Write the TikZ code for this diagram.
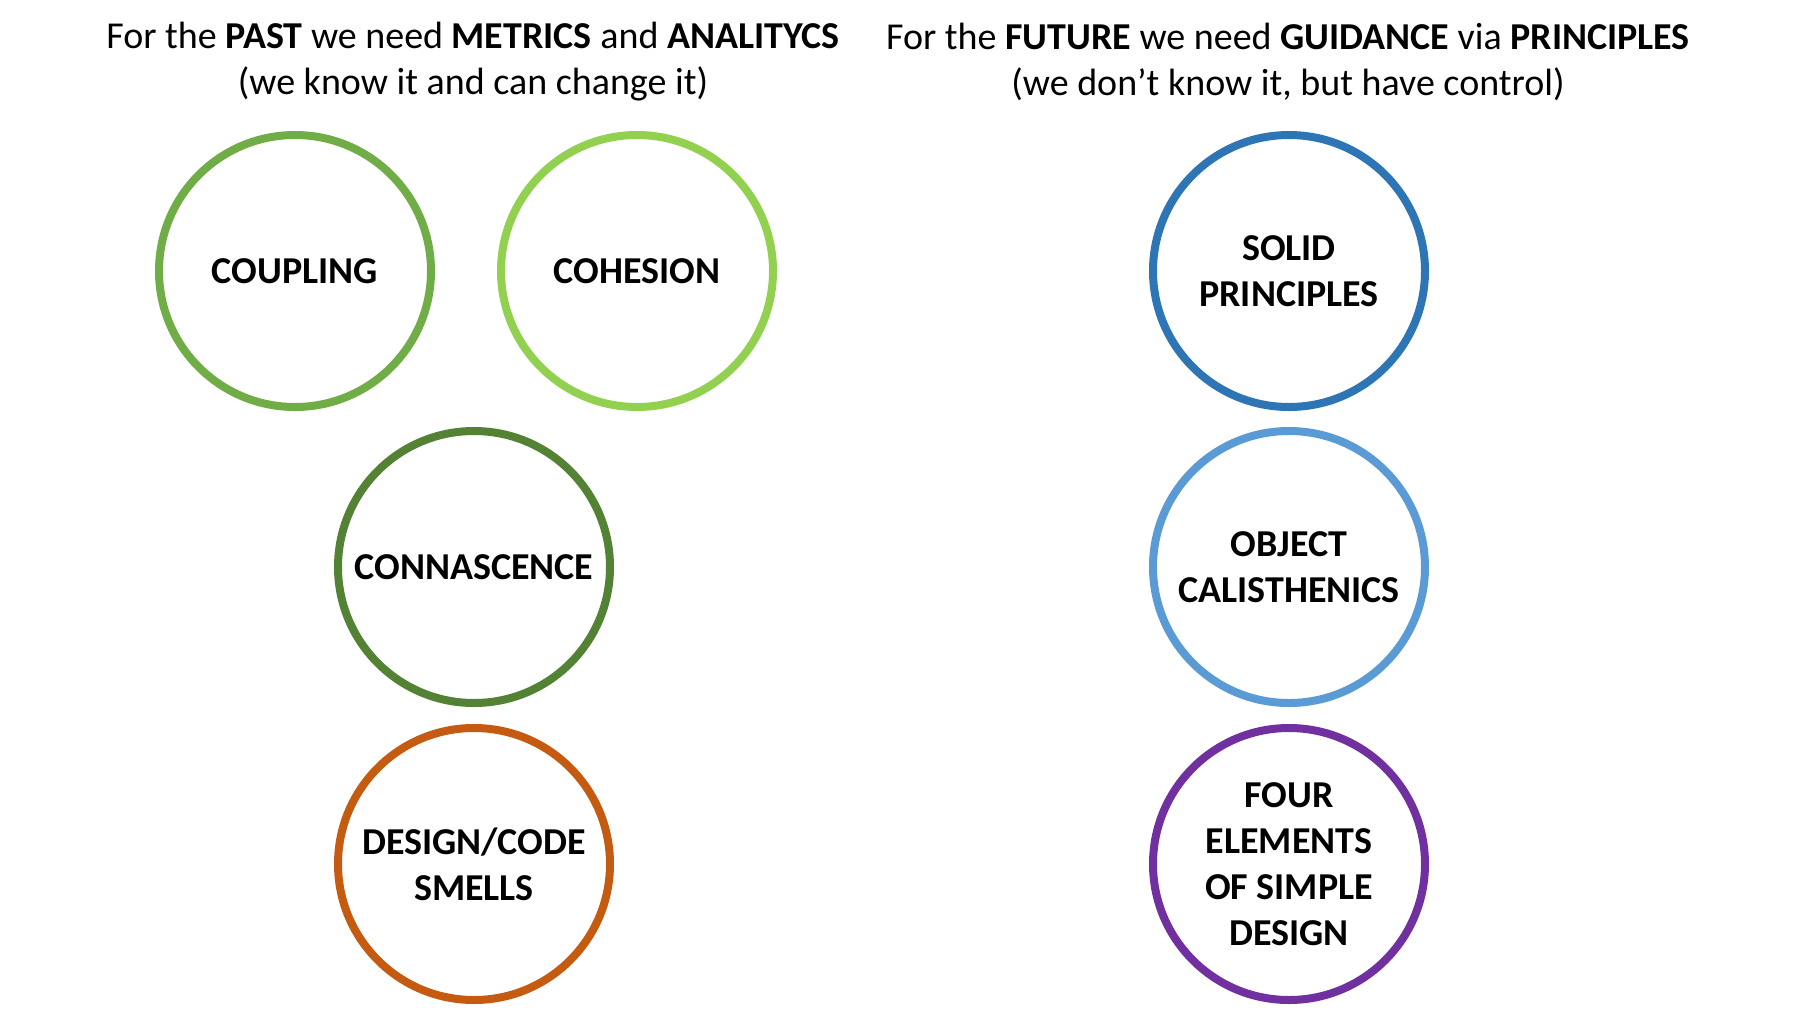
\documentclass[tikz,border=0pt]{standalone}
\usepackage{fontspec}
\setmainfont{Carlito}
\definecolor{cgreen}{HTML}{70AD47}
\definecolor{clight}{HTML}{92D050}
\definecolor{cdark}{HTML}{548235}
\definecolor{corange}{HTML}{C55A11}
\definecolor{cblue}{HTML}{2E75B6}
\definecolor{clblue}{HTML}{5B9BD5}
\definecolor{cpurple}{HTML}{7030A0}
\begin{document}
\begin{tikzpicture}[x=1pt,y=-1pt,
  ring/.style={circle,draw=#1,line width=8pt,minimum size=272pt,inner sep=0pt,align=center,
    font=\fontsize{38}{46}\selectfont\bfseries},
  title/.style={align=center,font=\fontsize{38}{46}\selectfont}]
\useasboundingbox[fill=white] (0,0) rectangle (1800,1013);
\node[title] (tl) at (473,62) {For the \textbf{PAST} we need \textbf{METRICS} and \textbf{ANALITYCS}\\(we know it and can change it)};
\node[title] (tr) at (1288,62) {For the \textbf{FUTURE} we need \textbf{GUIDANCE} via \textbf{PRINCIPLES}\\(we don’t know it, but have control)};
\node[ring=cgreen] (coupling) at (295,271) {COUPLING};
\node[ring=clight] (cohesion) at (637,271) {COHESION};
\node[ring=cdark] (conn) at (474,567) {CONNASCENCE};
\node[ring=corange] (smells) at (474,864) {DESIGN/CODE\\SMELLS};
\node[ring=cblue] (solid) at (1289,271) {SOLID\\PRINCIPLES};
\node[ring=clblue] (oc) at (1289,567) {OBJECT\\CALISTHENICS};
\node[ring=cpurple] (four) at (1289,864) {FOUR\\ELEMENTS\\OF SIMPLE\\DESIGN};
\end{tikzpicture}
\end{document}
